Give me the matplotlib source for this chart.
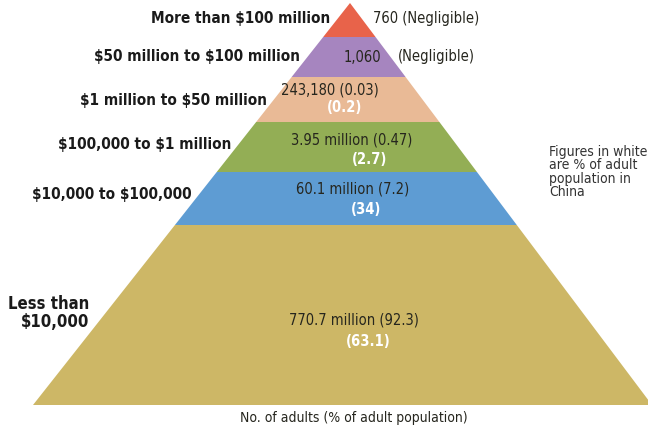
import matplotlib
matplotlib.use("Agg")
import matplotlib.pyplot as plt
from matplotlib.patches import Polygon

# wealth brackets, top of the pyramid first
brackets = ["More than $100 million", "$50 million to $100 million",
            "$1 million to $50 million", "$100,000 to $1 million",
            "$10,000 to $100,000", "Less than\n$10,000"]
adults = ["760", "1,060", "243,180", "3.95 million", "60.1 million", "770.7 million"]
share_adults = ["Negligible", "Negligible", "0.03", "0.47", "7.2", "92.3"]
share_china = [None, None, "0.2", "2.7", "34", "63.1"]
colors = ["#E8634A", "#A685BF", "#E9BA96", "#93AE55", "#5E9CD3", "#CDB766"]

# layout (pixels, y downwards)
W, H = 648, 430
APEX_X, APEX_Y, BASE_Y = 350, 3, 405
HALF_LEFT, HALF_RIGHT = 317, 302
band_edges = [APEX_Y, 37, 77, 122, 172, 225, BASE_Y]
label_y = [19, 57, 100, 145, 195, 313]
num_pos = [(373, 19, "left"), (362, 57, "center"), (330, 90, "center"),
           (352, 140, "center"), (353, 189, "center"), (354, 320, "center")]
white_pos = [None, None, (345, 108), (370, 160), (366, 210), (368, 342)]

plt.rcParams["font.family"] = ["Liberation Sans Narrow", "DejaVu Sans"]
plt.rcParams["font.stretch"] = "condensed"
plt.rcParams["text.parse_math"] = False


def frac(y):
    return (y - APEX_Y) / (BASE_Y - APEX_Y)


fig = plt.figure(figsize=(W / 100, H / 100), dpi=100)
ax = fig.add_axes([0, 0, 1, 1])
ax.set_xlim(0, W)
ax.set_ylim(H, 0)
ax.axis("off")

for i, c in enumerate(colors):
    yt, yb = band_edges[i], band_edges[i + 1]
    pts = [(APEX_X - HALF_LEFT * frac(yt), yt), (APEX_X + HALF_RIGHT * frac(yt), yt),
           (APEX_X + HALF_RIGHT * frac(yb), yb), (APEX_X - HALF_LEFT * frac(yb), yb)]
    ax.add_patch(Polygon(pts, closed=True, facecolor=c, edgecolor="none"))

ink = "#26261e"
for i, name in enumerate(brackets):
    y = label_y[i]
    last = i == len(brackets) - 1
    x = APEX_X - HALF_LEFT * frac(y) - (16 if last else 7)
    ax.text(x, y, name, ha="right", va="center", fontsize=12 if last else 11,
            fontweight="bold", color="#1a1a1a", linespacing=1.0)

for i in range(len(brackets)):
    x, y, ha = num_pos[i]
    if i == 1:
        ax.text(x, y, adults[i], ha="center", va="center", fontsize=10.5, color=ink)
        ax.text(398, y, f"({share_adults[i]})", ha="left", va="center",
                fontsize=10.5, color=ink)
    else:
        ax.text(x, y, f"{adults[i]} ({share_adults[i]})", ha=ha, va="center",
                fontsize=10.5, color=ink)
    if share_china[i] is not None:
        wx, wy = white_pos[i]
        ax.text(wx, wy, f"({share_china[i]})", ha="center", va="center",
                fontsize=10.5, fontweight="bold", color="white")

ax.text(549, 145, "Figures in white\nare % of adult\npopulation in\nChina",
        ha="left", va="top", fontsize=10, color="#333333", linespacing=0.95)
ax.text(354, 418, "No. of adults (% of adult population)", ha="center",
        va="center", fontsize=10, color=ink)

fig.savefig("out.png", dpi=100)
